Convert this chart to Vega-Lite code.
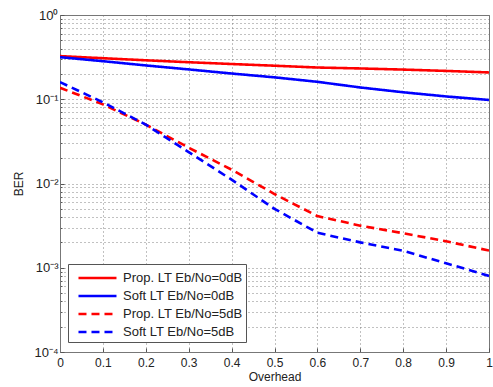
{
  "$schema": "https://vega.github.io/schema/vega-lite/v6.json",
  "autosize": {"type": "none"},
  "padding": {"left": 60, "top": 15, "right": 4, "bottom": 35},
  "width": 429,
  "height": 337,
  "background": "white",
  "config": {
    "font": "Liberation Sans",
    "view": {"stroke": "#777", "strokeWidth": 1}
  },
  "data": {
    "values": [
      {"x": 0.0, "ber": 0.325, "s": "Prop. LT Eb/No=0dB"},
      {"x": 0.1, "ber": 0.307, "s": "Prop. LT Eb/No=0dB"},
      {"x": 0.2, "ber": 0.290, "s": "Prop. LT Eb/No=0dB"},
      {"x": 0.3, "ber": 0.275, "s": "Prop. LT Eb/No=0dB"},
      {"x": 0.4, "ber": 0.262, "s": "Prop. LT Eb/No=0dB"},
      {"x": 0.5, "ber": 0.250, "s": "Prop. LT Eb/No=0dB"},
      {"x": 0.6, "ber": 0.238, "s": "Prop. LT Eb/No=0dB"},
      {"x": 0.7, "ber": 0.232, "s": "Prop. LT Eb/No=0dB"},
      {"x": 0.8, "ber": 0.225, "s": "Prop. LT Eb/No=0dB"},
      {"x": 0.9, "ber": 0.217, "s": "Prop. LT Eb/No=0dB"},
      {"x": 1.0, "ber": 0.208, "s": "Prop. LT Eb/No=0dB"},
      {"x": 0.0, "ber": 0.316, "s": "Soft LT Eb/No=0dB"},
      {"x": 0.1, "ber": 0.283, "s": "Soft LT Eb/No=0dB"},
      {"x": 0.2, "ber": 0.252, "s": "Soft LT Eb/No=0dB"},
      {"x": 0.3, "ber": 0.226, "s": "Soft LT Eb/No=0dB"},
      {"x": 0.4, "ber": 0.202, "s": "Soft LT Eb/No=0dB"},
      {"x": 0.5, "ber": 0.182, "s": "Soft LT Eb/No=0dB"},
      {"x": 0.6, "ber": 0.161, "s": "Soft LT Eb/No=0dB"},
      {"x": 0.7, "ber": 0.138, "s": "Soft LT Eb/No=0dB"},
      {"x": 0.8, "ber": 0.121, "s": "Soft LT Eb/No=0dB"},
      {"x": 0.9, "ber": 0.108, "s": "Soft LT Eb/No=0dB"},
      {"x": 1.0, "ber": 0.098, "s": "Soft LT Eb/No=0dB"},
      {"x": 0.0, "ber": 0.137, "s": "Prop. LT Eb/No=5dB"},
      {"x": 0.1, "ber": 0.087, "s": "Prop. LT Eb/No=5dB"},
      {"x": 0.2, "ber": 0.050, "s": "Prop. LT Eb/No=5dB"},
      {"x": 0.3, "ber": 0.0266, "s": "Prop. LT Eb/No=5dB"},
      {"x": 0.4, "ber": 0.0146, "s": "Prop. LT Eb/No=5dB"},
      {"x": 0.5, "ber": 0.0075, "s": "Prop. LT Eb/No=5dB"},
      {"x": 0.6, "ber": 0.0041, "s": "Prop. LT Eb/No=5dB"},
      {"x": 0.7, "ber": 0.00316, "s": "Prop. LT Eb/No=5dB"},
      {"x": 0.8, "ber": 0.00257, "s": "Prop. LT Eb/No=5dB"},
      {"x": 0.9, "ber": 0.00206, "s": "Prop. LT Eb/No=5dB"},
      {"x": 1.0, "ber": 0.0016, "s": "Prop. LT Eb/No=5dB"},
      {"x": 0.0, "ber": 0.160, "s": "Soft LT Eb/No=5dB"},
      {"x": 0.1, "ber": 0.092, "s": "Soft LT Eb/No=5dB"},
      {"x": 0.2, "ber": 0.050, "s": "Soft LT Eb/No=5dB"},
      {"x": 0.3, "ber": 0.0236, "s": "Soft LT Eb/No=5dB"},
      {"x": 0.4, "ber": 0.0111, "s": "Soft LT Eb/No=5dB"},
      {"x": 0.5, "ber": 0.0050, "s": "Soft LT Eb/No=5dB"},
      {"x": 0.6, "ber": 0.0026, "s": "Soft LT Eb/No=5dB"},
      {"x": 0.7, "ber": 0.0020, "s": "Soft LT Eb/No=5dB"},
      {"x": 0.8, "ber": 0.00159, "s": "Soft LT Eb/No=5dB"},
      {"x": 0.9, "ber": 0.00113, "s": "Soft LT Eb/No=5dB"},
      {"x": 1.0, "ber": 0.0008, "s": "Soft LT Eb/No=5dB"}
    ]
  },
  "mark": {"type": "line", "strokeWidth": 2.6, "clip": true},
  "encoding": {
    "x": {
      "field": "x", "type": "quantitative",
      "scale": {"domain": [0, 1], "nice": false, "zero": false},
      "axis": {
        "title": "Overhead",
        "values": [0, 0.1, 0.2, 0.3, 0.4, 0.5, 0.6, 0.7, 0.8, 0.9, 1],
        "labelExpr": "datum.value == 0 ? '0' : datum.value == 1 ? '1' : format(datum.value, '.1f')",
        "labelFontSize": 12, "labelColor": "#222", "labelPadding": 9,
        "labelFlush": false, "labelOverlap": false,
        "titleFontSize": 12, "titleFontWeight": "normal", "titleColor": "#222", "titlePadding": 3,
        "domainColor": "#777",
        "tickColor": "#555", "tickSize": -4,
        "grid": true, "gridDash": [1, 3], "gridColor": "#777", "gridOpacity": 0.9
      }
    },
    "y": {
      "field": "ber", "type": "quantitative",
      "scale": {"type": "log", "domain": [0.0001, 1], "nice": false},
      "axis": {
        "title": "BER",
        "values": [0.0001, 0.0002, 0.0003, 0.0004, 0.0005, 0.0006, 0.0007, 0.0008, 0.0009,
                   0.001, 0.002, 0.003, 0.004, 0.005, 0.006, 0.007, 0.008, 0.009,
                   0.01, 0.02, 0.03, 0.04, 0.05, 0.06, 0.07, 0.08, 0.09,
                   0.1, 0.2, 0.3, 0.4, 0.5, 0.6, 0.7, 0.8, 0.9, 1],
        "labelExpr": "abs(log(datum.value)/LN10 - round(log(datum.value)/LN10)) < 0.001 ? ['10⁻⁴','10⁻³','10⁻²','10⁻¹','10⁰'][round(log(datum.value)/LN10)+4] : ''",
        "labelFontSize": 13, "labelColor": "#222", "labelPadding": 6,
        "labelFlush": false, "labelOverlap": false,
        "titleFontSize": 12, "titleFontWeight": "normal", "titleColor": "#222", "titlePadding": 8,
        "domainColor": "#777",
        "tickColor": "#555",
        "tickSize": {"condition": {"test": "abs(log(datum.value)/LN10 - round(log(datum.value)/LN10)) < 0.001", "value": -4}, "value": -2},
        "grid": true, "gridDash": [1, 3], "gridColor": "#777", "gridOpacity": 0.9
      }
    },
    "color": {
      "field": "s", "type": "nominal",
      "scale": {
        "domain": ["Prop. LT Eb/No=0dB", "Soft LT Eb/No=0dB", "Prop. LT Eb/No=5dB", "Soft LT Eb/No=5dB"],
        "range": ["#ff0000", "#0000ff", "#ff0000", "#0000ff"]
      },
      "legend": {
        "title": null,
        "orient": "none", "legendX": 8, "legendY": 249,
        "symbolType": "M-0.37,0H3.63", "symbolSize": 361, "symbolStrokeWidth": 2.6,
        "labelFontSize": 13, "labelColor": "#222", "labelOffset": 30,
        "rowPadding": 0, "padding": 3,
        "strokeColor": "#555", "fillColor": "white"
      }
    },
    "strokeDash": {
      "field": "s", "type": "nominal",
      "scale": {
        "domain": ["Prop. LT Eb/No=0dB", "Soft LT Eb/No=0dB", "Prop. LT Eb/No=5dB", "Soft LT Eb/No=5dB"],
        "range": [[1, 0], [1, 0], [8, 5], [8, 5]]
      },
      "legend": null
    }
  }
}
